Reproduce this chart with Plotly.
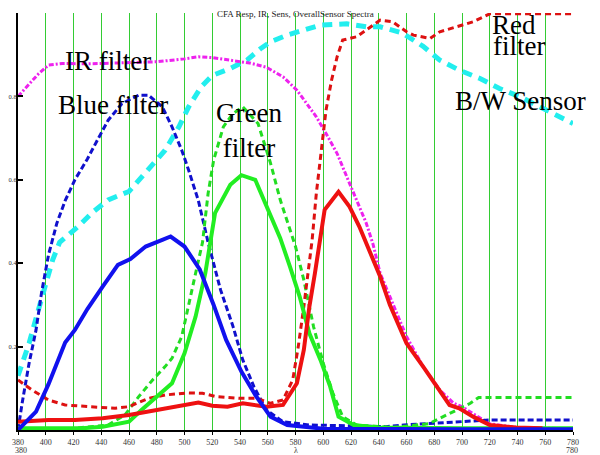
import plotly.graph_objects as go

# ---------------- data ----------------
ir_wl = [380, 388, 395, 402, 412, 430, 460, 480, 500, 510, 520, 530, 540, 547, 559, 571, 581, 588,
         595, 602, 610, 617, 624, 631, 636, 641, 648, 660, 672, 684, 694, 700, 710, 720, 740, 760, 780]
ir_val = [0.80, 0.83, 0.855, 0.875, 0.879, 0.878, 0.880, 0.883, 0.890, 0.895, 0.893, 0.888, 0.882,
          0.880, 0.870, 0.847, 0.815, 0.783, 0.751, 0.711, 0.663, 0.607, 0.552, 0.496, 0.444, 0.376,
          0.320, 0.224, 0.152, 0.096, 0.064, 0.056, 0.035, 0.015, 0.006, 0.004, 0.003]

bw_wl = [380, 388, 394, 400, 405, 410, 417, 424, 433, 445, 460, 474, 486, 496, 503, 512, 520, 533,
         545, 555, 562, 574, 583, 598, 617, 631, 641, 657, 672, 684, 698, 713, 727, 742, 756, 770, 780]
bw_val = [0.13, 0.208, 0.28, 0.352, 0.408, 0.45, 0.47, 0.49, 0.52, 0.552, 0.572, 0.623, 0.671, 0.727,
          0.775, 0.823, 0.85, 0.867, 0.887, 0.915, 0.931, 0.947, 0.955, 0.971, 0.974, 0.967, 0.967,
          0.952, 0.92, 0.887, 0.863, 0.843, 0.819, 0.799, 0.775, 0.751, 0.735]

bluef_wl = [380, 383, 388, 393, 397, 402, 408, 414, 421, 430, 438, 445, 455, 467, 474, 484, 491, 498,
            503, 510, 517, 526, 535, 542, 550, 559, 571, 590, 620, 645, 658, 677, 696, 720, 780]
bluef_val = [0.0, 0.065, 0.16, 0.24, 0.33, 0.42, 0.496, 0.55, 0.60, 0.65, 0.70, 0.743, 0.783, 0.803,
             0.803, 0.775, 0.727, 0.671, 0.623, 0.55, 0.45, 0.336, 0.248, 0.168, 0.104, 0.048, 0.02,
             0.012, 0.01, 0.008, 0.012, 0.016, 0.02, 0.024, 0.024]

blue_wl = [380, 393, 402, 414, 421, 430, 441, 452, 461, 472, 484, 490, 500, 511, 521, 530, 541, 551,
           562, 574, 600, 650, 700, 780]
blue_val = [0.0, 0.044, 0.11, 0.21, 0.24, 0.29, 0.344, 0.396, 0.41, 0.44, 0.456, 0.464, 0.44, 0.385,
            0.30, 0.216, 0.14, 0.084, 0.032, 0.012, 0.003, 0.002, 0.002, 0.002]

greenf_wl = [380, 420, 445, 457, 467, 477, 486, 491, 498, 503, 508, 513, 517, 521, 528, 535, 542, 553,
             562, 569, 575, 580, 586, 593, 600, 607, 614, 624, 650, 676, 684, 696, 706, 712, 780]
greenf_val = [0.002, 0.004, 0.012, 0.036, 0.08, 0.12, 0.152, 0.172, 0.224, 0.296, 0.376, 0.45, 0.567,
              0.647, 0.727, 0.759, 0.775, 0.735, 0.64, 0.552, 0.488, 0.44, 0.36, 0.248, 0.16, 0.088,
              0.032, 0.012, 0.006, 0.015, 0.028, 0.048, 0.064, 0.078, 0.078]

green_wl = [380, 426, 441, 460, 469, 481, 491, 500, 508, 515, 522, 533, 541, 551, 560, 569, 576, 583,
            590, 598, 605, 611, 622, 638, 700, 780]
green_val = [0.004, 0.004, 0.008, 0.02, 0.048, 0.084, 0.112, 0.184, 0.272, 0.376, 0.52, 0.588, 0.611,
             0.60, 0.528, 0.46, 0.392, 0.32, 0.232, 0.168, 0.104, 0.032, 0.012, 0.006, 0.004, 0.004]

redf_wl = [380, 390, 402, 414, 431, 450, 460, 474, 486, 503, 513, 523, 540, 552, 562, 571, 578, 582,
           586, 589, 592, 595, 599, 602, 606, 610, 614, 624, 631, 641, 650, 660, 665, 677, 684, 696,
           708, 720, 780]
redf_val = [0.12, 0.096, 0.072, 0.06, 0.056, 0.052, 0.056, 0.076, 0.084, 0.089, 0.088, 0.08, 0.076,
            0.076, 0.064, 0.072, 0.12, 0.20, 0.296, 0.376, 0.456, 0.567, 0.687, 0.767, 0.839, 0.895,
            0.935, 0.943, 0.959, 0.983, 0.979, 0.955, 0.947, 0.939, 0.955, 0.967, 0.979, 0.998, 0.998]

red_wl = [380, 402, 421, 441, 460, 481, 493, 510, 520, 531, 542, 559, 571, 581, 586, 590, 594, 598,
          601, 611, 619, 626, 632, 641, 648, 660, 672, 682, 691, 698, 708, 720, 739, 758]
red_val = [0.02, 0.024, 0.024, 0.028, 0.036, 0.048, 0.056, 0.066, 0.058, 0.056, 0.064, 0.056, 0.06,
           0.112, 0.192, 0.296, 0.376, 0.456, 0.528, 0.571, 0.535, 0.488, 0.44, 0.368, 0.30, 0.208,
           0.152, 0.104, 0.06, 0.052, 0.032, 0.012, 0.006, 0.004]

x_ticks = list(range(380, 781, 20))
y_ticks = [0.2, 0.4, 0.6, 0.8, 1.0]
y_tick_text = ["0.2", "0.4", "0.6", "0.8", ""]

SERIF = "Liberation Serif, Times New Roman, serif"

fig = go.Figure()

def add(x, y, color, width, dash):
    fig.add_trace(go.Scatter(x=x, y=y, mode="lines", showlegend=False,
                             line=dict(color=color, width=width, dash=dash)))

add(bw_wl, bw_val, "#22eeee", 5, "10px,7px")
add(ir_wl, ir_val, "#ee22ee", 3, "5px,2px,2px,2px")
add(bluef_wl, bluef_val, "#1010cc", 3, "6px,3px")
add(greenf_wl, greenf_val, "#22dd22", 3, "6px,4px")
add(redf_wl, redf_val, "#dd1111", 3, "6px,4px")
add(green_wl, green_val, "#22ee22", 4, "solid")
add(red_wl, red_val, "#ee1111", 4, "solid")
add(blue_wl, blue_val, "#1111ee", 4, "solid")

lab = dict(family=SERIF, size=27, color="black")
fig.add_annotation(x=445, y=0.885, text="IR filter", showarrow=False, font=lab)
fig.add_annotation(x=448.5, y=0.779, text="Blue filter", showarrow=False, font=lab)
fig.add_annotation(x=546.5, y=0.719, text="Green<br>filter", showarrow=False, font=lab, align="center")
fig.add_annotation(x=720, y=1.0, yref="paper", yanchor="top", yshift=5, text="Red",
                   showarrow=False, font=lab, xanchor="left")
fig.add_annotation(x=721, y=0.922, text="filter", showarrow=False, font=lab, xanchor="left")
fig.add_annotation(x=742.5, y=0.79, text="B/W Sensor", showarrow=False, font=lab)

small = dict(family=SERIF, size=8, color="#333333")
fig.add_annotation(x=0.5, y=1, xref="paper", yref="paper", yanchor="top", yshift=6,
                   text="CFA Resp, IR, Sens, OverallSensor Spectra", showarrow=False,
                   font=dict(family=SERIF, size=9, color="#222222"))
fig.add_annotation(x=382, y=0, yref="paper", yanchor="middle", yshift=-20, text="380",
                   showarrow=False, font=small)
fig.add_annotation(x=779, y=0, yref="paper", yanchor="middle", yshift=-20, text="780",
                   showarrow=False, font=small)
fig.add_annotation(x=580, y=0, yref="paper", yanchor="middle", yshift=-20, text="λ",
                   showarrow=False, font=small)

# the page places the figure 8px in from its top-left corner, so the figure is 8px smaller
fig.update_layout(
    width=592, height=447,
    margin=dict(l=10, r=27, t=5, b=25, autoexpand=False),
    plot_bgcolor="white", paper_bgcolor="white",
    xaxis=dict(range=[380, 780], tickvals=x_ticks, showgrid=True, gridcolor="#33cc33",
               gridwidth=1, zeroline=False, showline=True, linecolor="black", linewidth=2,
               ticks="outside", ticklen=3, tickwidth=1, tickcolor="black", automargin=False,
               tickfont=dict(family=SERIF, size=8, color="#333333")),
    yaxis=dict(range=[0, 1], tickvals=y_ticks, ticktext=y_tick_text, showgrid=False,
               zeroline=False, showline=True, linecolor="black", linewidth=2, automargin=False,
               ticks="inside", ticklen=5, tickwidth=2, tickcolor="black", ticklabelstandoff=-2,
               tickfont=dict(family=SERIF, size=6.5, color="#333333")),
)

fig.write_html("out.html")
